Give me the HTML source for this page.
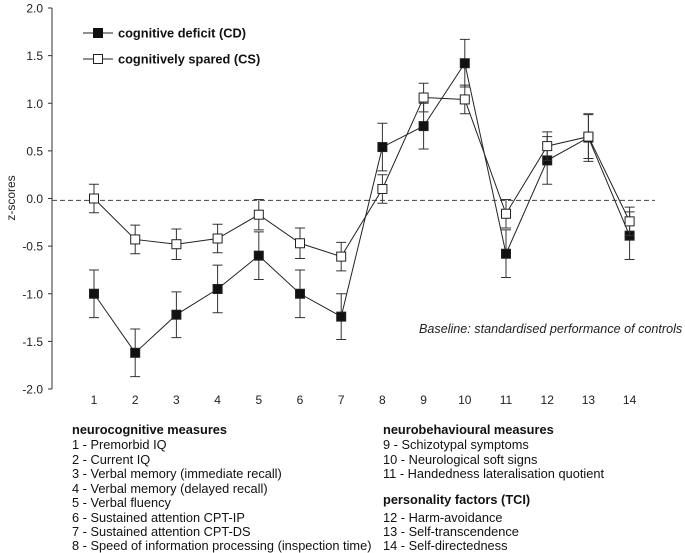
<!DOCTYPE html>
<html><head><meta charset="utf-8"><style>
html,body{margin:0;padding:0;background:#fff}
svg{display:block;font-family:"Liberation Sans",Arial,sans-serif}
</style></head><body>
<svg id="chart" width="685" height="553" viewBox="0 0 685 553" xmlns="http://www.w3.org/2000/svg">
<g id="axes"></g>
<g id="series"></g>
<g>
  <g>
    <line x1="83" y1="33" x2="113" y2="33" stroke="#222" stroke-width="1"/>
    <rect x="93.5" y="28.5" width="9" height="9" fill="#111" stroke="#111"/>
    <text x="118" y="37.5" font-size="12.8" font-weight="bold" fill="#111">cognitive deficit (CD)</text>
  </g>
  <g>
    <line x1="83" y1="59" x2="113" y2="59" stroke="#222" stroke-width="1"/>
    <rect x="93.5" y="54.5" width="9" height="9" fill="#fff" stroke="#222"/>
    <text x="118" y="63.5" font-size="12.8" font-weight="bold" fill="#111">cognitively spared (CS)</text>
  </g>
</g>
<text x="419" y="333" font-size="12.6" font-style="italic" fill="#222">Baseline: standardised performance of controls</text>
<text transform="translate(15,198) rotate(-90)" text-anchor="middle" font-size="12" fill="#222">z-scores</text>
<g font-size="12.8" fill="#111">
  <text x="72" y="434" font-weight="bold">neurocognitive measures</text>
  <text x="72" y="449">1 - Premorbid IQ</text>
  <text x="72" y="464">2 - Current IQ</text>
  <text x="72" y="478">3 - Verbal memory (immediate recall)</text>
  <text x="72" y="493">4 - Verbal memory (delayed recall)</text>
  <text x="72" y="507">5 - Verbal fluency</text>
  <text x="72" y="522">6 - Sustained attention CPT-IP</text>
  <text x="72" y="536">7 - Sustained attention CPT-DS</text>
  <text x="72" y="550">8 - Speed of information processing (inspection time)</text>
  <text x="383" y="434" font-weight="bold">neurobehavioural measures</text>
  <text x="383" y="449">9 - Schizotypal symptoms</text>
  <text x="383" y="464">10 - Neurological soft signs</text>
  <text x="383" y="478">11 - Handedness lateralisation quotient</text>
  <text x="383" y="504" font-weight="bold">personality factors (TCI)</text>
  <text x="383" y="522">12 - Harm-avoidance</text>
  <text x="383" y="536">13 - Self-transcendence</text>
  <text x="383" y="550">14 - Self-directedness</text>
</g>
</svg>
<script>
const categories = [1,2,3,4,5,6,7,8,9,10,11,12,13,14];
const cdValues = [-1.0,-1.62,-1.22,-0.95,-0.6,-1.0,-1.24,0.54,0.76,1.42,-0.58,0.40,0.64,-0.39];
const cdErrors = [0.25,0.25,0.24,0.25,0.25,0.25,0.24,0.25,0.24,0.25,0.25,0.25,0.25,0.25];
const csValues = [0.0,-0.43,-0.48,-0.42,-0.17,-0.47,-0.61,0.10,1.06,1.04,-0.16,0.55,0.65,-0.24];
const csErrors = [0.15,0.15,0.16,0.15,0.16,0.16,0.15,0.15,0.15,0.15,0.15,0.15,0.23,0.15];
const yTicks = [2.0,1.5,1.0,0.5,0.0,-0.5,-1.0,-1.5,-2.0];
const baselineValue = -0.02;

const NS = "http://www.w3.org/2000/svg";
function xScale(c){ return 94 + (c-1)*41.2; }
function yScale(v){ return 198.5 - v*95.25; }
function mk(tag, attrs, parent){
  const e = document.createElementNS(NS, tag);
  for (const k in attrs) e.setAttribute(k, attrs[k]);
  parent.appendChild(e);
  return e;
}
const axes = document.getElementById('axes');
const series = document.getElementById('series');

const yAxis = mk('line', {x1:52,y1:yScale(2),x2:52,y2:yScale(-2),stroke:'#333','stroke-width':1}, axes);


yTicks.forEach(t => {
  const tk = mk('line', {x1:48,y1:yScale(t),x2:52,y2:yScale(t),stroke:'#333'}, axes);
  
  
  const lb = mk('text', {x:43,y:yScale(t)+4.5,'text-anchor':'end','font-size':12,fill:'#222'}, axes);
  lb.textContent = t.toFixed(1);
  
  
});
categories.forEach(c => {
  const lb = mk('text', {x:xScale(c),y:404,'text-anchor':'middle','font-size':12,fill:'#222'}, axes);
  lb.textContent = String(c);
  
  
});
const base = mk('line', {x1:52,y1:yScale(baselineValue),x2:655,y2:yScale(baselineValue),stroke:'#444','stroke-dasharray':'5,3'}, axes);



function drawSeries(vals, errs, fill, name){
  const g = mk('g', {}, series);
  
  
  vals.forEach((v,i) => {
    const x = xScale(categories[i]);
    const eb = mk('path', {d:`M${x},${yScale(v+errs[i])}V${yScale(v-errs[i])}M${x-5},${yScale(v+errs[i])}H${x+5}M${x-5},${yScale(v-errs[i])}H${x+5}`,stroke:'#333',fill:'none'}, g);
    
    
  });
  const pts = vals.map((v,i) => xScale(categories[i])+','+yScale(v)).join(' ');
  const ln = mk('polyline', {points:pts,fill:'none',stroke:'#222','stroke-width':1}, g);
  
  
  vals.forEach((v,i) => {
    const m = mk('rect', {x:xScale(categories[i])-4.5,y:yScale(v)-4.5,width:9,height:9,fill:fill,stroke:'#222'}, g);
    
    
  });
}
drawSeries(cdValues, cdErrors, '#111', 'series-cd');
drawSeries(csValues, csErrors, '#fff', 'series-cs');
</script>
</body></html>
